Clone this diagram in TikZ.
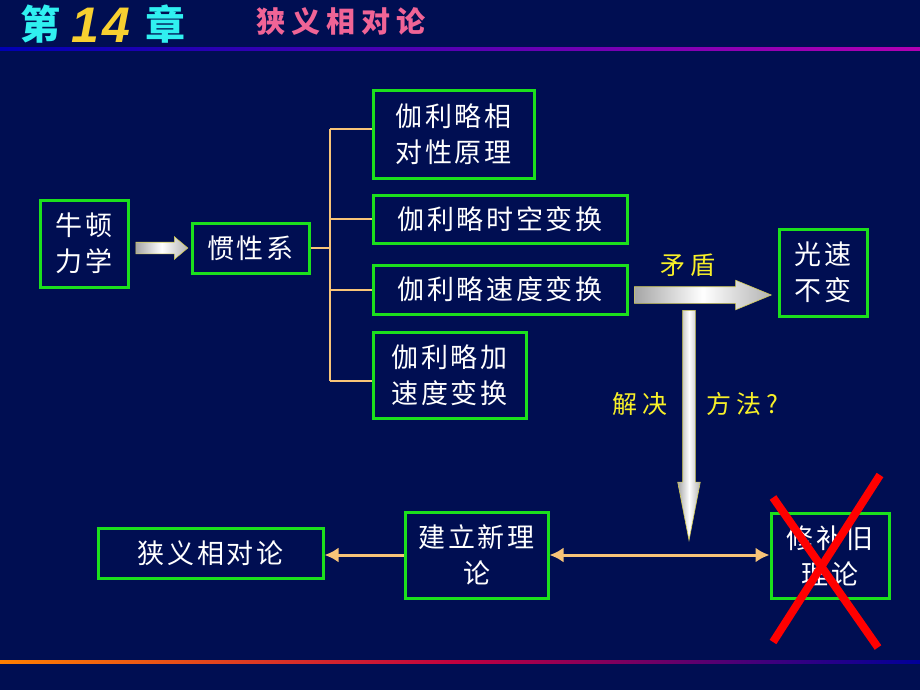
\documentclass[tikz,border=0pt]{standalone}
\usepackage{fontspec}
\newfontfamily\cjk[LetterSpace=10]{Noto Sans CJK SC}
\newfontfamily\cjkwide[LetterSpace=20]{Noto Sans CJK SC}
\newfontfamily\titlenum[LetterSpace=8]{Liberation Sans}
\usetikzlibrary{shapes.arrows,calc,arrows.meta}
\definecolor{bg}{RGB}{0,14,82}
\definecolor{boxgreen}{RGB}{28,224,28}
\definecolor{wire}{RGB}{248,196,120}
\definecolor{hint}{RGB}{248,240,40}
\definecolor{titlecyan}{RGB}{48,240,240}
\definecolor{titleyellow}{RGB}{248,208,48}
\definecolor{titlepink}{RGB}{240,100,150}
\begin{document}
\begin{tikzpicture}[x=1pt,y=-1pt,>={Latex[length=14pt,width=15pt]},
  box/.style={draw=boxgreen,line width=3pt,fill=bg,text=white,align=center,inner sep=0pt,font=\cjk\fontsize{27}{36}\selectfont},
  branch/.style={wire,line width=2pt},
  link/.style={wire,line width=3pt,->},
  fatarrow/.style={single arrow,draw=yellow!60!gray,line width=.6pt,inner xsep=0pt,anchor=tail,left color=gray!70,right color=gray!60,middle color=white},
  remark/.style={text=hint,font=\cjkwide\fontsize{25}{30}\selectfont}]
\fill[bg] (0,0) rectangle (920,690);
\useasboundingbox (0,0) rectangle (920,690);
% title
\node[text=titlecyan,font=\cjk\bfseries\fontsize{40}{44}\selectfont] (chap) at (40,24) {第};
\node[text=titleyellow,font=\titlenum\bfseries\itshape\fontsize{50}{50}\selectfont] (num) at (101,25) {14};
\node[text=titlecyan,font=\cjk\bfseries\fontsize{40}{44}\selectfont] (zhang) at (165,24) {章};
\node[text=titlepink,font=\cjkwide\bfseries\fontsize{29}{32}\selectfont] (topic) at (341,21) {狭义相对论};
\shade[left color=blue!70!black,right color=magenta!70!black] (0,47.5) rectangle (920,50.5);
\shade[left color=orange,right color=blue!60!black,middle color=purple] (0,660.5) rectangle (920,663.5);
% boxes
\node[box,minimum width=88pt,minimum height=87pt] (newton) at (84,243.5) {牛顿\\力学};
\node[box,minimum width=117pt,minimum height=50pt] (inertial) at (250.5,248) {惯性系};
\node[box,minimum width=161pt,minimum height=87pt] (relprin) at (453.5,134.5) {伽利略相\\对性原理};
\node[box,minimum width=254pt,minimum height=48pt] (spacetime) at (500,219) {伽利略时空变换};
\node[box,minimum width=254pt,minimum height=49pt] (velocity) at (500,289.5) {伽利略速度变换};
\node[box,minimum width=153pt,minimum height=86pt] (accel) at (449.5,375) {伽利略加\\速度变换};
\node[box,minimum width=88pt,minimum height=87pt] (lightspeed) at (823,272.5) {光速\\不变};
\node[box,minimum width=225pt,minimum height=50pt] (special) at (210.5,553) {狭义相对论};
\node[box,minimum width=143pt,minimum height=86pt] (newtheory) at (476.5,555) {建立新理\\论};
\node[box,minimum width=118pt,minimum height=85pt] (patch) at (830,555.5) {修补旧\\理论};
% bracket
\coordinate (spine) at (330,248);
\coordinate (toptip) at ([yshift=6pt]relprin.west);
\coordinate (bottip) at ([yshift=-6pt]accel.west);
\draw[branch] (inertial.east) -- (spine);
\draw[branch] (toptip -| spine) -- (bottip -| spine);
\foreach \n in {toptip,spacetime.west,velocity.west,bottip}
  \draw[branch] (\n -| spine) -- (\n);
% fat arrows
\node[fatarrow,inner ysep=5.5pt,minimum height=52pt,single arrow head extend=5.5pt,single arrow tip angle=80] (push) at ([xshift=6pt]newton.east |- inertial) {};
\node[fatarrow,inner ysep=8pt,minimum height=137pt,single arrow head extend=6.5pt,single arrow tip angle=45] (clash) at (634,295) {};
\node[fatarrow,rotate=-90,inner ysep=6pt,minimum height=230pt,single arrow head extend=5pt,single arrow tip angle=22] (solve) at (689,310) {};
\node[remark] (conflict) at (688,265) {矛盾};
\node[remark] (howa) at (640,404) {解决};
\node[remark] (howb) at (742,404) {方法?};
% links
\draw[link] (newtheory.west) -- (newtheory.west -| special.east);
\draw[link,<->] (newtheory.east) -- (newtheory.east -| patch.west);
% cross out
\draw[red,line width=8pt] ($(patch)+(-57,-58)$) -- ($(patch)+(48,92)$);
\draw[red,line width=8pt] ($(patch)+(50,-80.5)$) -- ($(patch)+(-57,86.5)$);
\end{tikzpicture}
\end{document}
